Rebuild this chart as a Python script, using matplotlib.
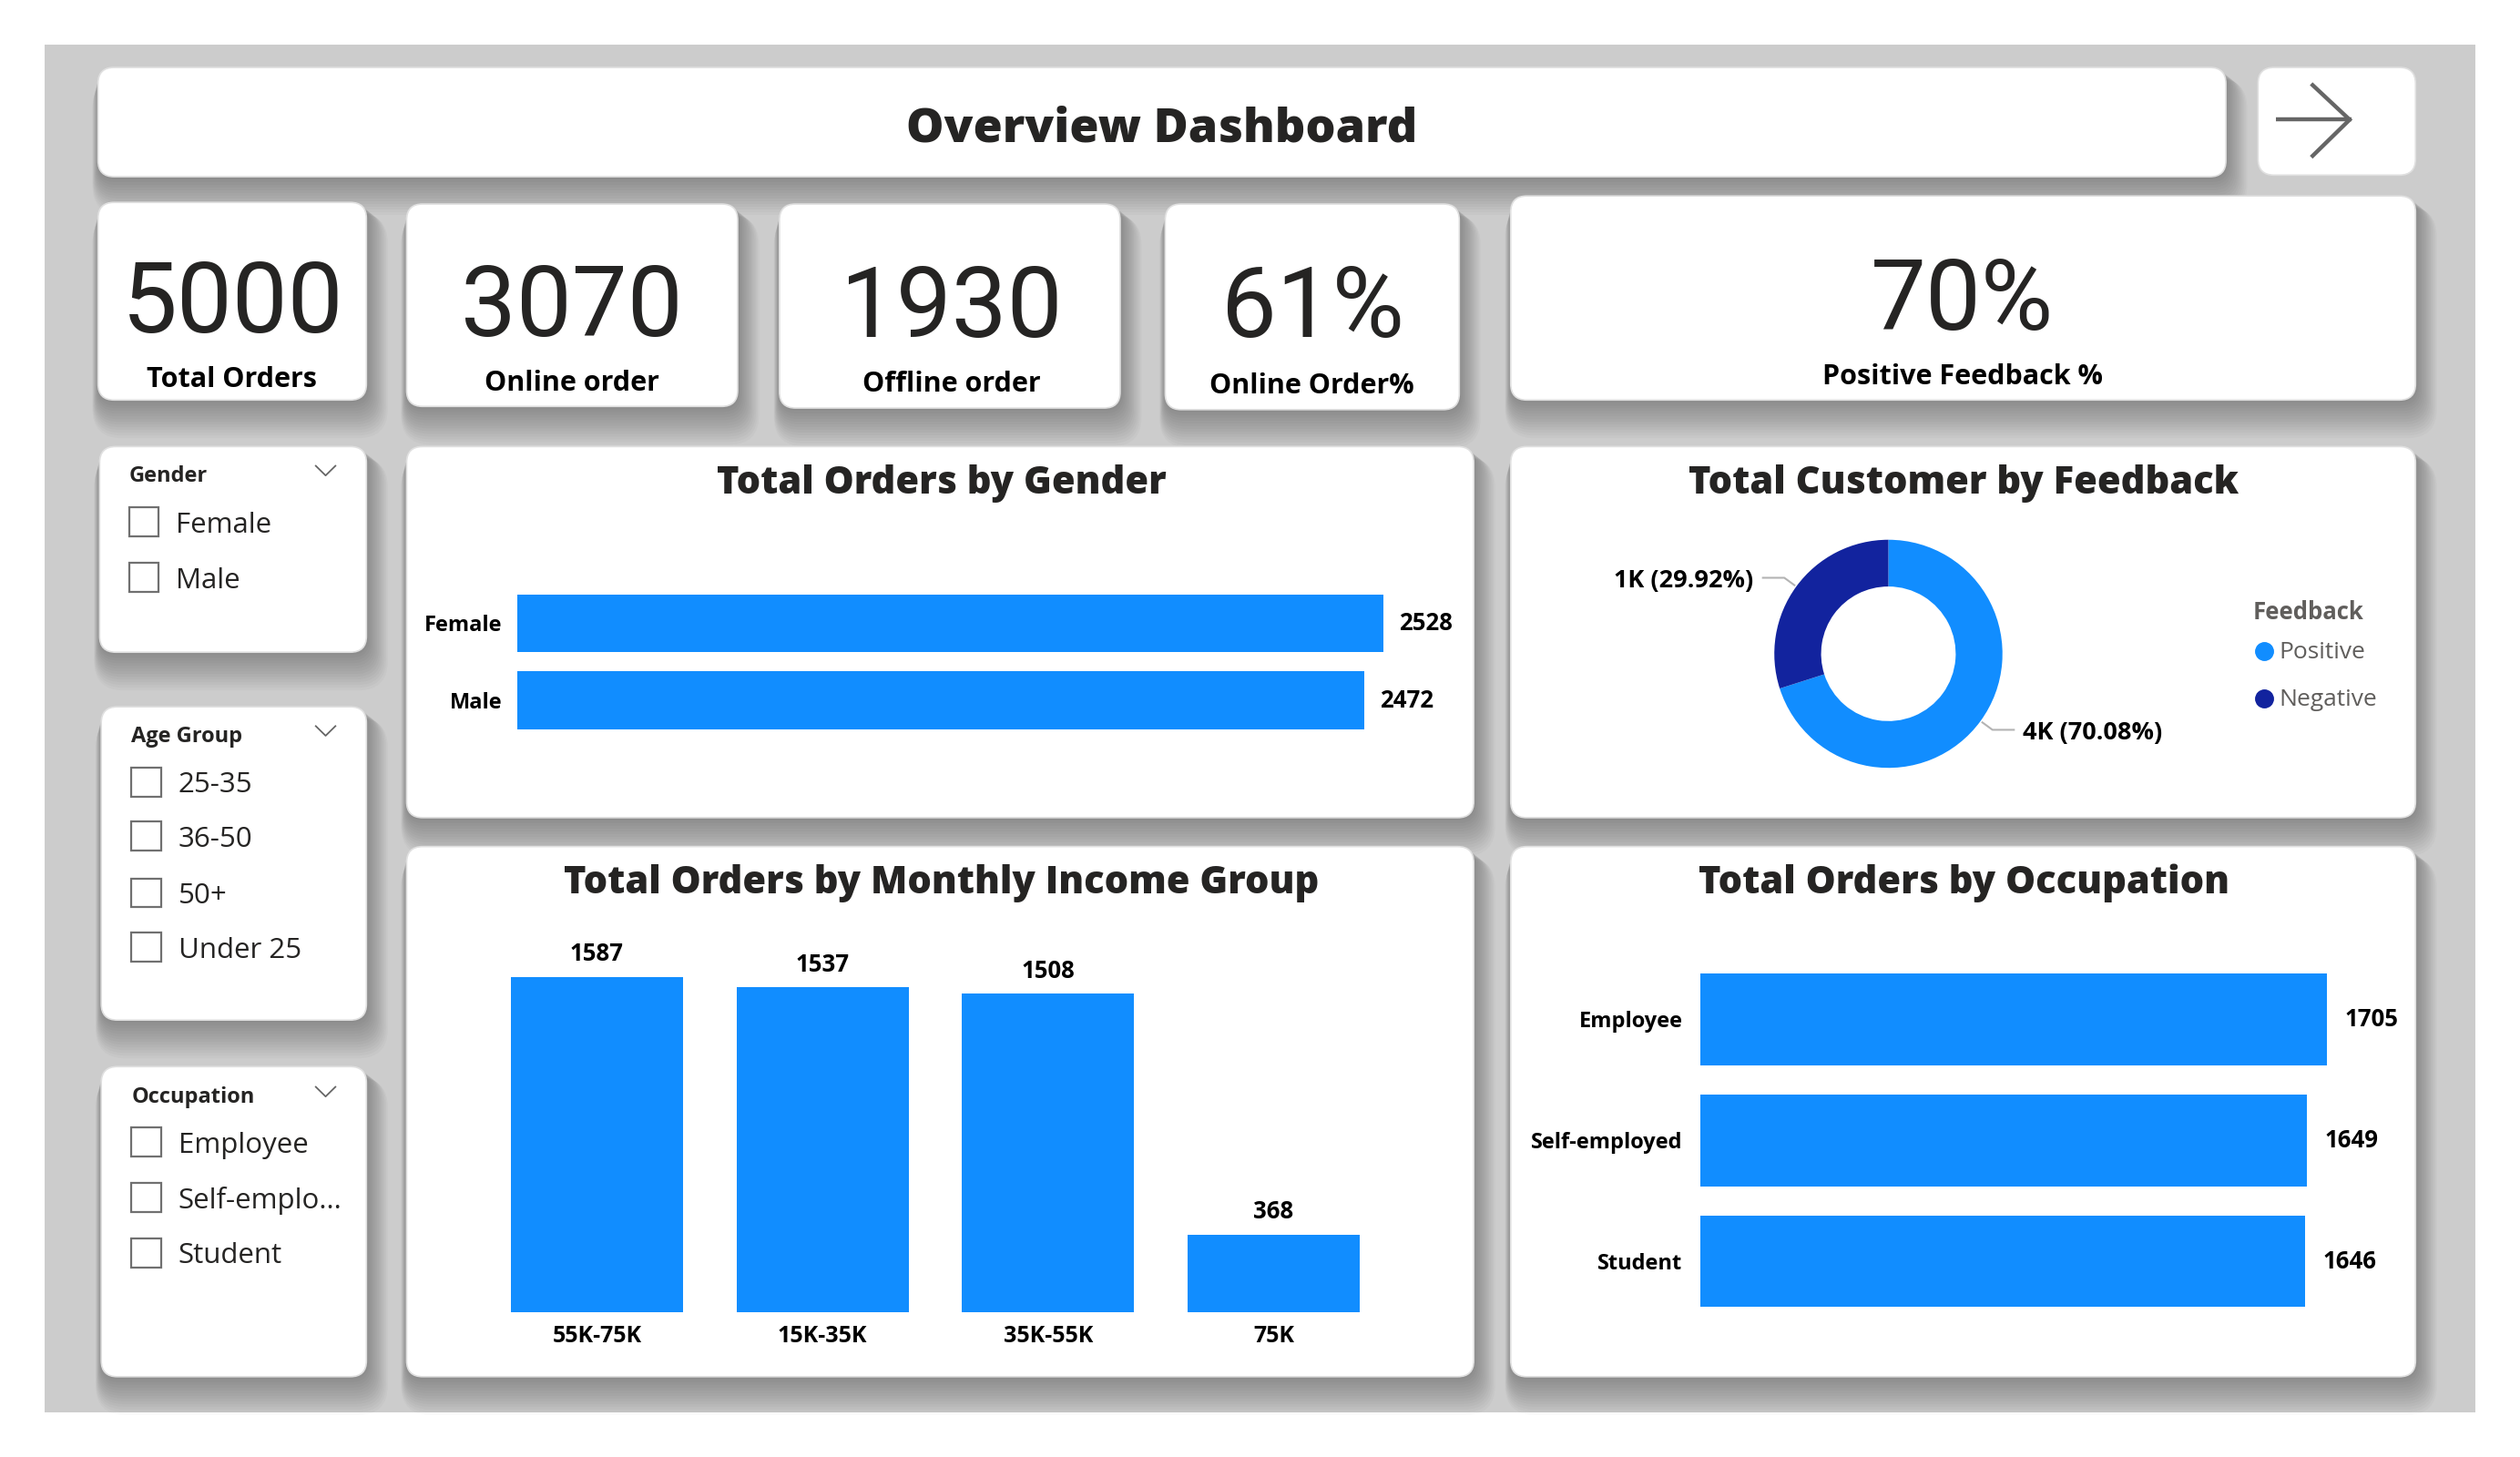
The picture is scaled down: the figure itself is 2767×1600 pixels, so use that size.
import numpy as np
import matplotlib
matplotlib.use("Agg")
import matplotlib.pyplot as plt
from matplotlib.patches import FancyBboxPatch, Rectangle

# ---------------- data ----------------
dashboard_title = "Overview Dashboard"
kpi_values = ["5000", "3070", "1930", "61%", "70%"]
kpi_labels = ["Total Orders", "Online order", "Offline order", "Online Order%", "Positive Feedback %"]

gender_categories = ["Female", "Male"]
gender_orders = [2528, 2472]

feedback_categories = ["Positive", "Negative"]
feedback_customers = [3504, 1496]
feedback_labels = ["4K (70.08%)", "1K (29.92%)"]

income_groups = ["55K-75K", "15K-35K", "35K-55K", "75K"]
income_orders = [1587, 1537, 1508, 368]

occupation_categories = ["Employee", "Self-employed", "Student"]
occupation_orders = [1705, 1649, 1646]

slicer_titles = ["Gender", "Age Group", "Occupation"]
slicer_gender_items = ["Female", "Male"]
slicer_age_items = ["25-35", "36-50", "50+", "Under 25"]
slicer_occupation_items = ["Employee", "Self-emplo...", "Student"]

# ---------------- style ----------------
BLUE = "#118DFF"
NAVY = "#12239E"
DARK = "#252423"
GREY_TXT = "#605E5C"
FONT = ["Open Sans", "DejaVu Sans"]
NUMFONT = ["Roboto", "DejaVu Sans"]
plt.rcParams["font.family"] = FONT

W, H = 1568.0, 907.0
fig = plt.figure(figsize=(27.67, 16), dpi=100)
fig.patch.set_facecolor("white")
bg = fig.add_axes([0, 0, 1, 1])
bg.set_xlim(0, W)
bg.set_ylim(H, 0)
bg.axis("off")

bg.add_patch(Rectangle((28, 28), 1512, 851, fc="#cccccc", ec="none", zorder=0))


def card(x0, y0, x1, y1, r=10, shadow=True):
    w, h = x1 - x0, y1 - y0
    if shadow:
        n = 14
        for i in range(n, 0, -1):
            e = i * 0.6
            dx, dy = i * 0.35, i * 1.1
            bg.add_patch(FancyBboxPatch((x0 + dx - e, y0 + dy - e), w + 2 * e, h + 2 * e,
                                        boxstyle=f"round,pad=0,rounding_size={r + e}",
                                        fc="black", ec="none", alpha=0.022, zorder=1))
    bg.add_patch(FancyBboxPatch((x0, y0), w, h, boxstyle=f"round,pad=0,rounding_size={r}",
                                fc="white", ec="#e0e0e0", lw=1.2, zorder=2))


def axes_box(x0, y0, x1, y1):
    ax = fig.add_axes([x0 / W, 1 - y1 / H, (x1 - x0) / W, (y1 - y0) / H])
    ax.set_facecolor("none")
    for s in ax.spines.values():
        s.set_visible(False)
    return ax


# ---------------- cards ----------------
card(61, 42, 1385, 110)
card(1405, 42, 1503, 109, shadow=False)
kpi_boxes = [(61, 126, 228, 249), (253, 127, 459, 253), (485, 127, 697, 254),
             (725, 127, 908, 255), (940, 122, 1503, 249)]
for b in kpi_boxes:
    card(*b)
slicer_boxes = [(62, 278, 228, 406), (63, 440, 228, 635), (63, 664, 228, 857)]
for b in slicer_boxes:
    card(*b)
chart_boxes = {"gender": (253, 278, 917, 509), "feedback": (940, 278, 1503, 509),
               "income": (253, 527, 917, 857), "occupation": (940, 527, 1503, 857)}
for b in chart_boxes.values():
    card(*b)

# ---------------- header ----------------
bg.text(723, 88, dashboard_title, ha="center", va="baseline", fontsize=37.5,
        fontweight=800, color=DARK, zorder=5)
# arrow button
bg.plot([1416, 1463], [74.5, 74.5], color="#666666", lw=3.2, solid_capstyle="butt", zorder=5)
bg.plot([1439, 1462, 1439], [53, 74.5, 97], color="#666666", lw=3.2,
        solid_joinstyle="miter", zorder=5)

# ---------------- KPI cards ----------------
kpi_num_pos = [(145, 207), (356, 209), (592, 210), (817, 210), (1221, 205)]
kpi_lab_pos = [(144, 241), (356, 243), (592, 244), (816, 245), (1221, 239)]
for v, l, (nx, ny), (lx, ly) in zip(kpi_values, kpi_labels, kpi_num_pos, kpi_lab_pos):
    bg.text(nx, ny, v, ha="center", va="baseline", fontsize=78, color=DARK,
            family=NUMFONT, zorder=5)
    bg.text(lx, ly, l, ha="center", va="baseline", fontsize=22, fontweight="bold",
            color="black", zorder=5)

# ---------------- slicers ----------------
slicer_specs = [
    (slicer_titles[0], 80, 295, slicer_gender_items, [325, 359.6], 80.3, 109.6),
    (slicer_titles[1], 81.8, 457, slicer_age_items, [486.8, 520.6, 555.8, 589.6], 81.8, 110.9),
    (slicer_titles[2], 81.8, 681.6, slicer_occupation_items, [711, 745.5, 780], 81.8, 110.9),
]
for title, tx, ty, items, ys, bx, txx in slicer_specs:
    bg.text(tx, ty + 1.5, title, ha="left", va="center", fontsize=17, fontweight="bold",
            color=DARK, zorder=5)
    bg.plot([196.5, 202.6, 208.7], [ty - 5, ty + 1, ty - 5], color="#666666", lw=1.3, zorder=5)
    for it, y in zip(items, ys):
        bg.add_patch(Rectangle((bx, y - 9), 18.5, 18, fc="white", ec="#707070", lw=1.6, zorder=5))
        bg.text(txx, y + 2, it, ha="left", va="center", fontsize=22.5, color=DARK, zorder=5)

# ---------------- chart titles ----------------
TITLE = dict(fontsize=30, fontweight=800, color=DARK, zorder=5, va="baseline", ha="center")
bg.text(586, 307, "Total Orders by Gender", **TITLE)
bg.text(1222, 307, "Total Customer by Feedback", **TITLE)
bg.text(586, 556, "Total Orders by Monthly Income Group", **TITLE)
bg.text(1222, 556, "Total Orders by Occupation", **TITLE)

LBL = dict(fontsize=17, fontweight="bold", color="black")
NUM = dict(fontsize=18.5, fontweight="bold", color="black")

# ---------------- gender bar chart ----------------
ax = axes_box(322, 346, 880, 478)
ypos = np.arange(len(gender_categories))
ax.barh(ypos, gender_orders, height=0.75, color=BLUE)
ax.set_xlim(0, 2528 * 558 / 539)
ax.set_ylim(1.875, -0.875)
ax.set_xticks([])
ax.set_yticks(ypos)
ax.set_yticklabels(gender_categories, **LBL)
ax.tick_params(axis="y", length=0, pad=12)
for y, v in zip(ypos, gender_orders):
    ax.annotate(str(v), (v, y), xytext=(12, 0), textcoords="offset points",
                ha="left", va="center", **NUM)

# ---------------- income column chart ----------------
ax = axes_box(301.3, 580, 862.6, 817)
xpos = np.arange(len(income_groups))
ax.bar(xpos, income_orders, width=0.763, color=BLUE)
ax.set_xlim(-0.5, 3.5)
ax.set_ylim(0, 1587 * 237 / 209)
ax.set_yticks([])
ax.set_xticks(xpos)
ax.set_xticklabels(income_groups, fontsize=18, fontweight="bold", color="black")
ax.tick_params(axis="x", length=0, pad=10)
for x, v in zip(xpos, income_orders):
    ax.annotate(str(v), (x, v), xytext=(0, 12.5), textcoords="offset points",
                ha="center", va="baseline", **NUM)

# ---------------- occupation bar chart ----------------
ax = axes_box(1058, 590, 1480, 830)
ypos = np.arange(len(occupation_categories))
ax.barh(ypos, occupation_orders, height=0.757, color=BLUE)
ax.set_xlim(0, 1705 * 422 / 390)
ax.set_ylim(2.595, -0.591)
ax.set_xticks([])
ax.set_yticks(ypos)
ax.set_yticklabels(occupation_categories, **LBL)
ax.tick_params(axis="y", length=0, pad=14)
for y, v in zip(ypos, occupation_orders):
    ax.annotate(str(v), (v, y), xytext=(14, 0), textcoords="offset points",
                ha="left", va="center", **NUM)

# ---------------- feedback donut ----------------
ax = axes_box(1095, 327, 1255, 487)
wedges, _ = ax.pie(feedback_customers, colors=[BLUE, NAVY], startangle=90, counterclock=False,
                   radius=1.0, wedgeprops=dict(width=0.41, edgecolor="none"))
lim = 80 / 71
ax.set_xlim(-lim, lim)
ax.set_ylim(-lim, lim)
for w, lab in zip(wedges, feedback_labels):
    ang = np.deg2rad((w.theta1 + w.theta2) / 2)
    c, s = np.cos(ang), np.sin(ang)
    sign = 1 if c > 0 else -1
    p0 = (1.02 * c, 1.02 * s)
    p1 = (1.13 * c, 1.13 * s)
    p2 = (sign * 1.10, p1[1])
    ax.plot([p0[0], p1[0], p2[0]], [p0[1], p1[1], p2[1]], color="#b3b3b3", lw=1.5, clip_on=False)
    ax.text(sign * 1.18, p1[1] - 0.03, lab, ha="left" if sign > 0 else "right", va="center",
            fontsize=19.5, fontweight="bold", color="black")

# legend
bg.text(1402, 381, "Feedback", ha="left", va="center", fontsize=18.5, fontweight="bold",
        color=GREY_TXT, zorder=5)
for cat, col, y in zip(feedback_categories, [BLUE, NAVY], [405.3, 434.9]):
    bg.plot([1408.5], [y], marker="o", markersize=14, color=col, zorder=5)
    bg.text(1417.8, y + 1, cat, ha="left", va="center", fontsize=19, color=GREY_TXT, zorder=5)

fig.savefig("out.png", dpi=100, facecolor="white")
